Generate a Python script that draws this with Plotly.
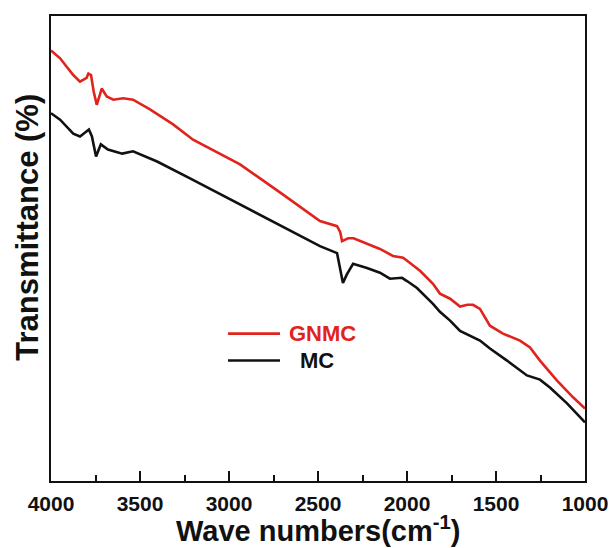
import plotly.graph_objects as go

# GNMC (red) spectrum
gnmc_wn = [4000, 3949, 3875, 3837, 3800, 3790, 3775, 3760, 3743, 3715, 3687, 3650, 3595, 3539,
           3444, 3314, 3202, 2938, 2700, 2489, 2393, 2375, 2365, 2331, 2300, 2225, 2152, 2079,
           2022, 1983, 1927, 1854, 1815, 1758, 1702, 1660, 1629, 1590, 1534, 1461, 1365, 1309,
           1253, 1157, 1067, 1000]
gnmc_t = [92.6, 90.9, 87.3, 85.9, 86.7, 87.6, 87.3, 83.7, 80.9, 84.4, 82.7, 82.0, 82.3, 82.0,
          79.9, 76.7, 73.4, 68.1, 61.7, 55.9, 54.8, 53.5, 51.6, 52.2, 52.2, 51.0, 49.9, 48.4,
          48.0, 46.9, 45.2, 42.4, 40.3, 39.2, 37.5, 37.9, 37.9, 37.0, 33.4, 31.7, 30.2, 28.7,
          25.9, 21.6, 18.0, 15.6]

# MC (black) spectrum
mc_wn = [4000, 3949, 3875, 3837, 3787, 3770, 3747, 3720, 3680, 3600, 3539, 3404, 3219, 2900,
         2601, 2489, 2393, 2376, 2360, 2337, 2303, 2225, 2152, 2096, 2028, 2000, 1944, 1854,
         1815, 1758, 1702, 1590, 1534, 1438, 1326, 1253, 1197, 1101, 1000]
mc_t = [79.1, 77.7, 74.7, 74.1, 75.6, 74.1, 69.8, 72.4, 71.3, 70.4, 70.9, 68.7, 65.1, 58.7,
        52.7, 50.5, 49.0, 45.8, 42.6, 44.5, 46.7, 45.8, 44.8, 43.5, 43.7, 43.0, 41.5, 38.1,
        36.4, 34.5, 32.3, 30.2, 28.5, 25.9, 22.7, 21.8, 20.1, 16.7, 12.6]

x_ticks = [4000, 3500, 3000, 2500, 2000, 1500, 1000]
x_tick_labels = ["4000", "3500", "3000", "2500", "2000", "1500", "1000"]
series_names = ["GNMC", "MC"]
series_colors = ["#e0231c", "#111111"]

FONT = "Liberation Sans, Arial, sans-serif"

fig = go.Figure()
fig.add_trace(go.Scatter(x=gnmc_wn, y=gnmc_t, mode="lines", name=series_names[0],
                         line=dict(color=series_colors[0], width=2.6), showlegend=False))
fig.add_trace(go.Scatter(x=mc_wn, y=mc_t, mode="lines", name=series_names[1],
                         line=dict(color=series_colors[1], width=2.6), showlegend=False))

# manual legend
leg_rows = [(0.317, series_names[0], series_colors[0], 0.442),
            (0.259, series_names[1], series_colors[1], 0.4625)]
for yv, name, col, tx in leg_rows:
    fig.add_shape(type="line", xref="paper", yref="paper", x0=0.3315, x1=0.4288, y0=yv, y1=yv,
                  line=dict(color=col, width=2.6))
    fig.add_annotation(xref="paper", yref="paper", x=tx, y=yv, xanchor="left", yanchor="middle",
                       text="<b>%s</b>" % name, showarrow=False,
                       font=dict(family=FONT, size=22, color=col))

# y axis title
fig.add_annotation(xref="paper", yref="paper", x=-0.0455, y=0.546, xanchor="center", yanchor="middle",
                   text="<b>Transmittance (%)</b>", textangle=-90, showarrow=False,
                   font=dict(family=FONT, size=31, color="#111111"))
# x axis title
fig.add_annotation(xref="paper", yref="paper", x=0.5, y=-0.103, xanchor="center", yanchor="middle",
                   text="<b>Wave numbers(cm<sup>-1</sup>)</b>", showarrow=False,
                   font=dict(family=FONT, size=29, color="#111111"))

# page body has an 8px margin, so the figure starts at (8, 8)
fig.update_layout(
    width=608, height=540,
    margin=dict(l=43, r=31, t=6, b=67),
    paper_bgcolor="white", plot_bgcolor="white",
    showlegend=False,
)
fig.update_xaxes(range=[4000, 1000], tickvals=x_ticks, ticktext=x_tick_labels,
                 ticks="inside", ticklen=10, tickwidth=1.5, tickcolor="#111111",
                 minor=dict(dtick=250, ticks="inside", ticklen=6, tickwidth=1.5, tickcolor="#111111"),
                 showline=True, linecolor="#111111", linewidth=1.8, mirror=True,
                 showgrid=False, zeroline=False,
                 tickfont=dict(family=FONT, size=21, color="#111111", weight="bold"),
                 ticklabelstandoff=3)
fig.update_yaxes(range=[0, 100], showticklabels=False, ticks="",
                 showline=True, linecolor="#111111", linewidth=1.8, mirror=True,
                 showgrid=False, zeroline=False)

fig.write_html("out.html")
